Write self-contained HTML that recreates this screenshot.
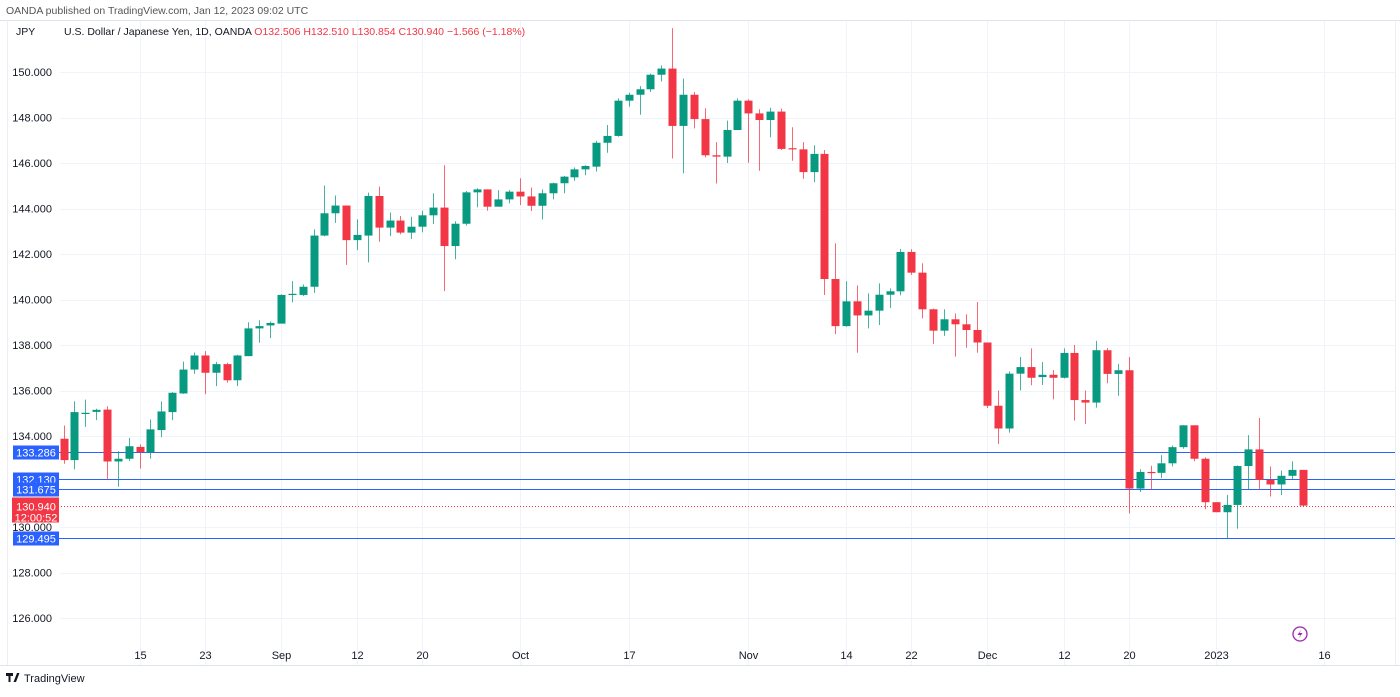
<!DOCTYPE html>
<html><head><meta charset="utf-8">
<style>
body{margin:0;background:#fff;font-family:"Liberation Sans",sans-serif;}
svg text{font-family:"Liberation Sans",sans-serif;}
</style></head>
<body>
<svg id="c" width="1400" height="692" xmlns="http://www.w3.org/2000/svg">
<rect x="0" y="0" width="1400" height="692" fill="#fff"/>
<text x="6" y="14" font-size="10.5" fill="#555">OANDA published on TradingView.com, Jan 12, 2023 09:02 UTC</text>
<line x1="0" y1="20.5" x2="1400" y2="20.5" stroke="#e0e3eb"/>
<line x1="7.5" y1="20" x2="7.5" y2="665" stroke="#eceef2"/>
<line x1="1395.5" y1="20" x2="1395.5" y2="665" stroke="#eceef2"/>
<line x1="0" y1="665.5" x2="1400" y2="665.5" stroke="#e0e3eb"/>
<g id="grid"></g>
<g id="levels"></g>
<g id="candles"></g>
<g id="yaxis"></g>
<g id="xaxis"></g>
<text x="16" y="35" font-size="10.5" fill="#131722">JPY</text>
<text x="64" y="35" font-size="10.5" fill="#131722">U.S. Dollar / Japanese Yen, 1D, OANDA <tspan fill="#f23645">O132.506 H132.510 L130.854 C130.940 −1.566 (−1.18%)</tspan></text>
<g>
<circle cx="1300" cy="634" r="7" fill="none" stroke="#9c27b0" stroke-width="1.3"/>
<path d="M1301.5 629 L1297.5 635 L1300.5 635 L1298.5 639 L1302.5 633 L1299.5 633 Z" fill="#9c27b0"/>
</g>
<g>
<path d="M6 673 h7 v3 h-2.5 v6 h-2 v-6 h-2.5z M13.5 682 l3.5 -9 h2.5 l-3.5 9z" fill="#131722"/>
<text x="24" y="682" font-size="11" fill="#131722">TradingView</text>
</g>
</svg>
<script>
const opens=[133.88,132.94,135.0,135.06,135.16,132.88,133.0,133.52,133.29,134.26,135.05,135.87,136.92,137.54,136.78,137.16,136.45,137.51,138.73,138.86,138.94,140.2,140.2,140.56,142.81,143.79,144.13,142.61,142.81,144.55,143.16,143.47,142.94,143.2,143.7,144.04,142.35,143.33,144.71,144.84,144.08,144.4,144.74,144.53,144.12,144.67,145.11,145.37,145.72,145.84,146.89,147.19,148.74,149.0,149.24,149.88,150.15,147.63,149.0,147.93,146.34,146.28,147.45,148.74,148.18,147.89,148.26,146.65,146.6,145.6,146.4,140.9,138.83,139.92,139.3,139.51,140.21,140.36,142.09,141.18,139.57,138.63,139.13,138.91,138.66,138.11,135.33,134.33,136.74,137.03,136.59,136.69,136.56,137.65,135.58,135.47,137.77,136.73,136.89,131.69,132.42,132.38,132.8,133.51,134.47,133.0,131.09,130.65,130.97,132.68,133.41,132.07,131.87,132.25,132.51];
const highs=[134.46,135.53,135.6,135.2,135.31,133.33,133.92,133.63,134.73,135.52,135.93,137.27,137.67,137.73,137.26,137.22,137.57,139.0,139.09,139.03,140.23,140.81,140.66,143.08,145.01,144.57,144.13,143.52,144.7,144.96,143.82,143.67,143.64,143.9,144.67,145.9,143.44,144.77,144.89,144.84,144.81,144.81,145.33,144.92,144.84,145.14,145.43,145.8,145.9,146.97,147.67,148.84,149.09,149.38,149.93,150.29,151.93,149.71,149.12,148.4,146.92,147.86,148.84,148.8,148.36,148.43,148.39,147.57,146.92,146.78,146.57,142.47,140.8,140.62,140.27,140.71,140.49,142.22,142.21,141.59,139.6,139.57,139.39,139.35,139.89,138.11,136.0,136.84,137.47,137.85,137.25,136.9,137.85,138.0,136.0,138.18,137.86,137.17,137.47,132.54,132.69,133.16,133.58,134.47,134.47,133.06,131.09,131.41,132.71,134.04,134.79,132.66,132.48,132.89,132.51];
const lows=[132.78,132.53,134.4,134.7,132.06,131.77,132.9,132.57,133.0,133.95,134.7,135.85,136.73,135.84,136.19,136.34,136.19,137.51,138.1,138.3,138.94,139.88,140.15,140.29,142.78,143.37,141.52,142.17,141.63,142.54,142.79,142.86,142.66,142.95,143.32,140.37,141.77,143.25,144.05,143.9,144.08,144.23,144.15,143.89,143.52,144.4,144.67,145.22,145.46,145.62,146.45,147.16,148.48,148.12,149.12,149.58,146.2,145.55,147.52,146.25,145.1,146.0,147.45,146.01,145.66,147.13,146.57,146.1,145.31,145.16,140.2,138.48,138.8,137.66,138.73,138.88,139.63,140.18,141.08,139.17,138.05,138.4,137.49,137.88,137.66,135.23,133.65,134.15,136.0,136.23,136.24,135.61,136.53,134.68,134.53,135.25,136.32,135.77,130.6,131.54,131.66,132.15,132.66,133.44,132.89,130.78,130.65,129.49,129.93,131.66,131.63,131.34,131.4,132.1,130.9];
const closes=[132.94,135.05,135.02,135.15,132.88,133.0,133.55,133.29,134.29,135.08,135.9,136.92,137.54,136.78,137.16,136.45,137.54,138.73,138.83,138.97,140.2,140.25,140.56,142.81,143.79,144.13,142.61,142.84,144.55,143.16,143.47,142.94,143.2,143.7,144.04,142.35,143.33,144.71,144.84,144.08,144.4,144.74,144.53,144.12,144.67,145.11,145.4,145.72,145.87,146.89,147.19,148.74,149.0,149.24,149.88,150.15,147.63,149.0,147.93,146.34,146.28,147.45,148.74,148.18,147.89,148.26,146.62,146.6,145.6,146.4,140.9,138.83,139.92,139.3,139.51,140.21,140.36,142.09,141.18,139.57,138.63,139.13,138.91,138.66,138.11,135.33,134.33,136.74,137.03,136.56,136.69,136.56,137.65,135.58,135.47,137.77,136.73,136.89,131.69,132.42,132.38,132.8,133.51,134.47,133.0,131.09,130.65,130.97,132.68,133.41,132.07,131.87,132.25,132.51,130.94];
const priceTicks=[150,148,146,144,142,140,138,136,134,130,128,126];
const dateLabels=["15","23","Sep","12","20","Oct","17","Nov","14","22","Dec","12","20","2023","16"];
const dateIndex=[7,13,20,27,33,42,52,63,72,78,85,92,98,106,116];
const levels=[133.286,132.130,131.675,129.495];
const lastPrice=130.940;

const NS="http://www.w3.org/2000/svg";
const y=p=>72+(150-p)*22.75;
const x=i=>63.5+i*10.87;
function mk(tag,attrs,parent,text){const e=document.createElementNS(NS,tag);for(const k in attrs)e.setAttribute(k,attrs[k]);if(text!==undefined)e.textContent=text;parent.appendChild(e);return e;}
const G=id=>document.getElementById(id);

priceTicks.forEach(p=>{
  const l=mk('line',{x1:60,x2:1395,y1:Math.round(y(p))+0.5,y2:Math.round(y(p))+0.5,stroke:'#f0f3fa'},G('grid'));
  
  
  const t=mk('text',{x:52,y:y(p)+4,'font-size':11,fill:'#131722','text-anchor':'end'},G('yaxis'),p.toFixed(3));
  
  
});
dateLabels.forEach((d,k)=>{
  const xx=Math.round(x(dateIndex[k]))+0.5;
  const l=mk('line',{x1:xx,x2:xx,y1:21,y2:665,stroke:'#f0f3fa'},G('grid'));
  
  
  const t=mk('text',{x:xx,y:659,'font-size':11,fill:'#131722','text-anchor':'middle'},G('xaxis'),d);
  
  
});
levels.forEach(p=>{
  const yy=Math.round(y(p))+0.5;
  const l=mk('line',{x1:58,x2:1395,y1:yy,y2:yy,stroke:'#2962ff','stroke-width':1},G('levels'));
  
  
  const r=mk('rect',{x:13,y:yy-7,width:46,height:14,fill:'#2962ff'},G('levels'));
  
  
  const t=mk('text',{x:36,y:yy+4,'font-size':11,fill:'#fff','text-anchor':'middle'},G('levels'),p.toFixed(3));
  
  
});
{
  const yy=Math.round(y(lastPrice))+0.5;
  const l=mk('line',{x1:58,x2:1395,y1:yy,y2:yy,stroke:'#f23645','stroke-dasharray':'1 2'},G('levels'));
  
  
  const r=mk('rect',{x:12,y:yy-9,width:47,height:25,fill:'#f23645'},G('levels'));
  
  
  const t=mk('text',{x:36,y:yy+4,'font-size':11,fill:'#fff','text-anchor':'middle'},G('levels'),lastPrice.toFixed(3));
  
  
  const t2=mk('text',{x:36,y:yy+15,'font-size':11,fill:'#fff','text-anchor':'middle'},G('levels'),'12:00:52');
  
  
}
opens.forEach((o,i)=>{
  const c=closes[i],col=c>=o?'#089981':'#f23645';
  const cx=Math.round(x(i))+0.5;
  const w=mk('line',{x1:cx,x2:cx,y1:y(highs[i]),y2:y(lows[i]),stroke:col,'stroke-opacity':0.75},G('candles'));
  
  
  const top=y(Math.max(o,c)),h=Math.max(1.2,Math.abs(y(o)-y(c)));
  const b=mk('rect',{x:cx-4,y:top,width:8,height:h,fill:col},G('candles'));
  
  
});
</script>
</body></html>
